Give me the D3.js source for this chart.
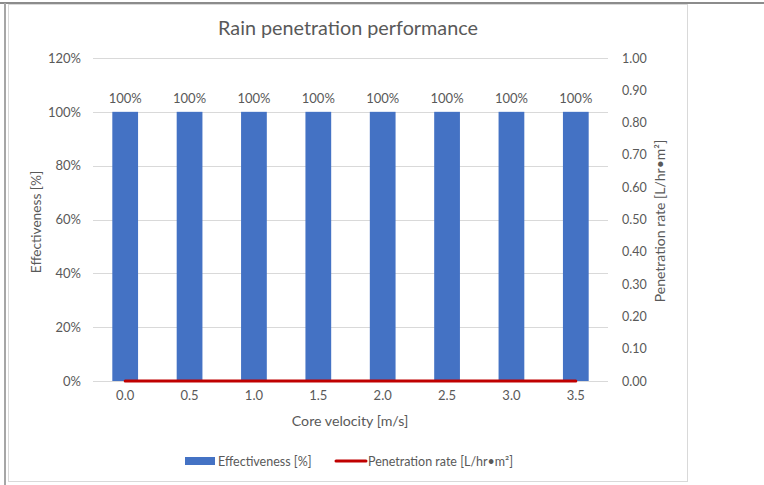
<!DOCTYPE html>
<html>
<head>
<meta charset="utf-8">
<script src="https://cdn.jsdelivr.net/npm/d3@7"></script>
<style>
  body { margin: 0; background: #fff; }
  text { font-family: Lato, "Open Sans", sans-serif; fill: #595959; }
</style>
</head>
<body>
<svg id="chart" width="764" height="485"></svg>
<script>
// data
const velocities = ["0.0", "0.5", "1.0", "1.5", "2.0", "2.5", "3.0", "3.5"];
const effectiveness = [1, 1, 1, 1, 1, 1, 1, 1];
const penetration = [0, 0, 0, 0, 0, 0, 0, 0];
const leftTicks = [0, 0.2, 0.4, 0.6, 0.8, 1.0, 1.2];
const rightTicks = [0, 0.1, 0.2, 0.3, 0.4, 0.5, 0.6, 0.7, 0.8, 0.9, 1.0];

const svg = d3.select("#chart");

// outer frame
svg.append("rect")
  .attr("x", 8.5).attr("y", 4.5)
  .attr("width", 679).attr("height", 477)
  .attr("fill", "#fff")
  .attr("stroke", "#d9d9d9");
svg.append("line")
  .attr("x1", 0).attr("x2", 764).attr("y1", 3).attr("y2", 3)
  .attr("stroke", "#8c8c8c").attr("stroke-width", 2);
svg.append("line")
  .attr("x1", 5).attr("x2", 5).attr("y1", 3).attr("y2", 485)
  .attr("stroke", "#a6a6a6").attr("stroke-width", 2);

const plot = { left: 93, right: 608, top: 58, bottom: 381 };

const x = d3.scaleBand()
  .domain(velocities)
  .range([plot.left, plot.right])
  .paddingInner(0.6)
  .paddingOuter(0.3);

const yL = d3.scaleLinear().domain([0, 1.2]).range([plot.bottom, plot.top]);
const yR = d3.scaleLinear().domain([0, 1.0]).range([plot.bottom, plot.top]);

// gridlines
svg.append("g")
  .selectAll("line")
  .data(leftTicks)
  .join("line")
  .attr("x1", plot.left).attr("x2", plot.right)
  .attr("y1", d => Math.round(yL(d)) + 0.5)
  .attr("y2", d => Math.round(yL(d)) + 0.5)
  .attr("stroke", "#d9d9d9");

// left axis
const leftAxis = svg.append("g")
  .attr("transform", `translate(${plot.left},0)`)
  .call(d3.axisLeft(yL).tickValues(leftTicks).tickFormat(d3.format(".0%")).tickSize(0).tickPadding(12));
leftAxis.select(".domain").remove();
leftAxis.selectAll("text").attr("font-size", 13).style("font-family", null);

// right axis
const rightAxis = svg.append("g")
  .attr("transform", `translate(${plot.right},0)`)
  .call(d3.axisRight(yR).tickValues(rightTicks).tickFormat(d3.format(".2f")).tickSize(0).tickPadding(14));
rightAxis.select(".domain").remove();
rightAxis.selectAll("text").attr("font-size", 12.5).style("font-family", null);

// bars
svg.append("g")
  .selectAll("rect")
  .data(effectiveness)
  .join("rect")
  .attr("x", (d, i) => x(velocities[i]))
  .attr("y", d => yL(d))
  .attr("width", x.bandwidth())
  .attr("height", d => yL(0) - yL(d))
  .attr("fill", "#4472c4");

// bar labels
svg.append("g")
  .selectAll("text")
  .data(effectiveness)
  .join("text")
  .attr("x", (d, i) => x(velocities[i]) + x.bandwidth() / 2)
  .attr("y", d => yL(d) - 9)
  .attr("text-anchor", "middle")
  .attr("font-size", 13)
  .text(d => d3.format(".0%")(d));

// penetration line
const line = d3.line()
  .x((d, i) => x(velocities[i]) + x.bandwidth() / 2)
  .y(d => yR(d));
svg.append("path")
  .datum(penetration)
  .attr("d", line)
  .attr("fill", "none")
  .attr("stroke", "#c00000")
  .attr("stroke-width", 3)
  .attr("stroke-linecap", "round");

// x axis
const bottomAxis = svg.append("g")
  .attr("transform", `translate(0,${plot.bottom})`)
  .call(d3.axisBottom(x).tickSize(0).tickPadding(10));
bottomAxis.select(".domain").remove();
bottomAxis.selectAll("text").attr("font-size", 13).style("font-family", null);

// titles
svg.append("text")
  .attr("x", 348).attr("y", 35)
  .attr("text-anchor", "middle")
  .attr("font-size", 19.8)
  .text("Rain penetration performance");

svg.append("text")
  .attr("x", 350).attr("y", 426)
  .attr("text-anchor", "middle")
  .attr("font-size", 14.2)
  .text("Core velocity [m/s]");

svg.append("text")
  .attr("transform", "translate(41,222) rotate(-90)")
  .attr("text-anchor", "middle")
  .attr("font-size", 13.7)
  .text("Effectiveness [%]");

svg.append("text")
  .attr("transform", "translate(665,221) rotate(-90)")
  .attr("text-anchor", "middle")
  .attr("font-size", 14)
  .text("Penetration rate [L/hr•m²]");

// legend
const legend = svg.append("g");
legend.append("rect")
  .attr("x", 185).attr("y", 457)
  .attr("width", 30).attr("height", 8)
  .attr("fill", "#4472c4");
legend.append("text")
  .attr("x", 218).attr("y", 466)
  .attr("font-size", 12.5)
  .text("Effectiveness [%]");
legend.append("line")
  .attr("x1", 336).attr("x2", 366)
  .attr("y1", 461).attr("y2", 461)
  .attr("stroke", "#c00000")
  .attr("stroke-width", 3)
  .attr("stroke-linecap", "round");
legend.append("text")
  .attr("x", 368).attr("y", 466)
  .attr("font-size", 12.5)
  .text("Penetration rate [L/hr•m²]");
</script>
</body>
</html>
